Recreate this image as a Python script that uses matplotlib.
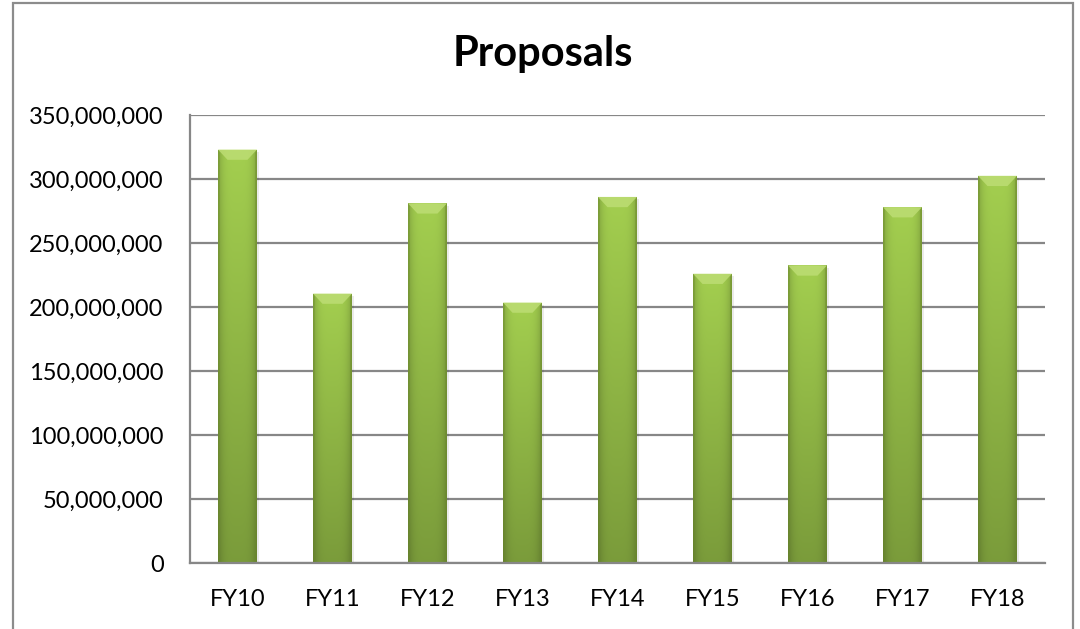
import numpy as np
import matplotlib.pyplot as plt
from matplotlib.patches import Rectangle, Polygon
from matplotlib.ticker import FuncFormatter

plt.rcParams['font.family'] = ['Lato', 'DejaVu Sans']

# Datos
years = ['FY10', 'FY11', 'FY12', 'FY13', 'FY14', 'FY15', 'FY16', 'FY17', 'FY18']
proposals = [323e6, 210.5e6, 281e6, 203.5e6, 286e6, 226e6, 232.5e6, 278e6, 302.5e6]

fig = plt.figure(figsize=(10.8, 6.29), dpi=100)
ax = fig.add_axes([190/1080, 1 - 563/629, (1045 - 190)/1080, (563 - 115)/629])

x = np.arange(len(years))
bars = ax.bar(x, proposals, width=0.41, color='none', zorder=3)

# Degradado verde para cada barra
def bar_gradient(h_px=200, w_px=60):
    v = np.linspace(0, 1, h_px)[:, None]          # 0 abajo, 1 arriba
    u = np.linspace(-1, 1, w_px)[None, :]
    bottom = np.array([0.48, 0.61, 0.23])
    top = np.array([0.64, 0.81, 0.31])
    img = bottom + (top - bottom) * v[..., None]
    shade = 1 - 0.2 * np.abs(u) ** 4
    img = img * shade[..., None]
    return np.clip(img, 0, 1)

dx = 0.1        # bisel horizontal (unidades de categoría)
dy = 8e6        # bisel vertical (unidades de datos)
for b in bars:
    bx, bw, bh = b.get_x(), b.get_width(), b.get_height()
    # sombra suave
    ax.add_patch(Rectangle((bx + 0.025, -2e6), bw, bh, color='black',
                           alpha=0.08, zorder=2, linewidth=0))
    im = ax.imshow(bar_gradient(), extent=[bx, bx + bw, 0, bh], origin='lower',
                   aspect='auto', zorder=3, interpolation='bilinear')
    im.set_clip_path(b)
    # bisel superior
    ax.add_patch(Polygon([(bx, bh), (bx + bw, bh), (bx + bw - dx, bh - dy),
                          (bx + dx, bh - dy)], closed=True,
                         facecolor='#bddd74', edgecolor='none', alpha=0.85, zorder=4))
    # bordes laterales más oscuros
    ax.add_patch(Polygon([(bx, bh), (bx + 0.02, bh - dy * 0.3), (bx + 0.02, 0), (bx, 0)],
                         facecolor='#6f8d2c', edgecolor='none', alpha=0.35, zorder=4))
    ax.add_patch(Polygon([(bx + bw, bh), (bx + bw - 0.02, bh - dy * 0.3),
                          (bx + bw - 0.02, 0), (bx + bw, 0)],
                         facecolor='#6f8d2c', edgecolor='none', alpha=0.45, zorder=4))

ax.set_xlim(-0.5, len(years) - 0.5)
ax.set_ylim(0, 350e6)
ax.set_yticks(np.arange(0, 350e6 + 1, 50e6))
ax.yaxis.set_major_formatter(FuncFormatter(lambda v, p: f'{int(v):,}'))
ax.set_xticks(x)
ax.set_xticklabels(years)
ax.tick_params(axis='both', length=0, labelsize=17)
ax.tick_params(axis='y', pad=19)
ax.tick_params(axis='x', pad=19)

ax.grid(axis='y', color='#878787', linewidth=1.6, zorder=1)
for s in ['top', 'right']:
    ax.spines[s].set_visible(False)
for s in ['left', 'bottom']:
    ax.spines[s].set_color('#878787')
    ax.spines[s].set_linewidth(1.6)
    ax.spines[s].set_zorder(5)

fig.text(543/1080, 1 - 54/629, 'Proposals', ha='center', va='center',
         fontsize=30, fontweight='bold')

# marco exterior
fig.patches.append(Rectangle((13/1080, -0.05), (1073 - 13)/1080, 1.05 - 3/629,
                             transform=fig.transFigure, fill=False,
                             edgecolor='#8c8c8c', linewidth=1.6))

fig.savefig('out.png', dpi=100)
